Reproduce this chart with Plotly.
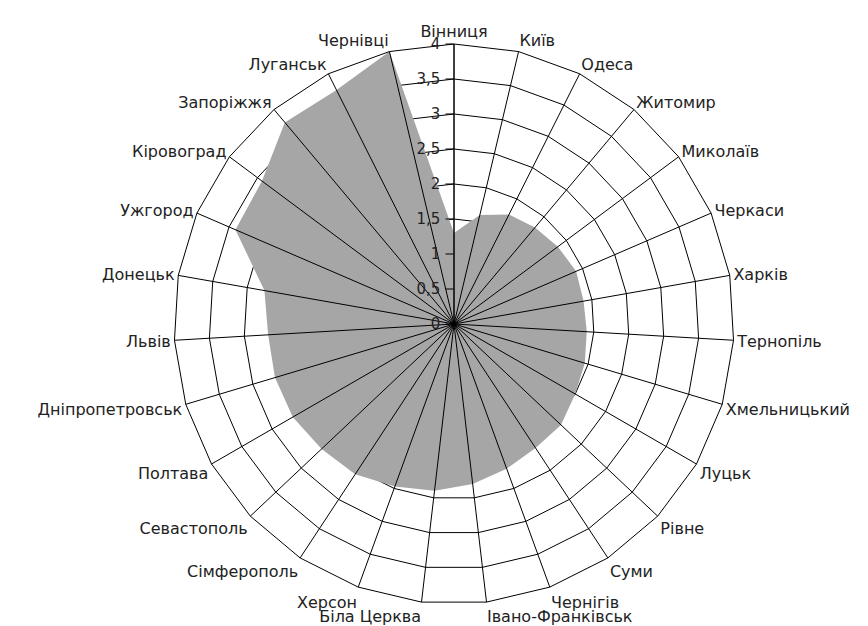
import plotly.graph_objects as go

categories = ["Вінниця", "Київ", "Одеса", "Житомир", "Миколаїв", "Черкаси", "Харків",
              "Тернопіль", "Хмельницький", "Луцьк", "Рівне", "Суми", "Чернігів",
              "Івано-Франківськ", "Біла Церква", "Херсон", "Сімферополь", "Севастополь",
              "Полтава", "Дніпропетровськ", "Львів", "Донецьк", "Ужгород", "Кіровоград",
              "Запоріжжя", "Луганськ", "Чернівці"]
values = [1.3, 1.6, 1.75, 1.8, 1.85, 1.9, 1.88,
          1.9, 1.95, 2.0, 2.1, 2.12, 2.2,
          2.3, 2.4, 2.47, 2.57, 2.6,
          2.66, 2.67, 2.66, 2.75, 3.4, 3.42,
          3.76, 3.74, 4.0]
tick_vals = [0, 0.5, 1, 1.5, 2, 2.5, 3, 3.5, 4]
tick_text = ["0", "0,5", "1", "1,5", "2", "2,5", "3", "3,5", "4"]

FONT = "DejaVu Sans"

theta = categories + [categories[0]]
r = values + [values[0]]

area = go.Scatterpolar(r=r, theta=theta, mode="lines", subplot="polar",
                       fill="toself", fillcolor="#a6a6a6",
                       line=dict(width=0, color="rgba(0,0,0,0)"),
                       hoverinfo="skip", showlegend=False)

dummy = go.Scatterpolar(r=[0] * len(categories), theta=categories, mode="lines",
                        line=dict(width=0, color="rgba(0,0,0,0)"), subplot="polar2",
                        hoverinfo="skip", showlegend=False)

fig = go.Figure([area, dummy])

ang_common = dict(type="category", categoryorder="array", categoryarray=categories,
                  direction="clockwise", rotation=90)

fig.update_layout(
    width=868, height=626,
    margin=dict(l=166, r=142, t=36, b=30),
    paper_bgcolor="white",
    font=dict(family=FONT, size=16, color="#222222"),
    polar=dict(
        domain=dict(x=[0, 1], y=[0, 1]),
        gridshape="linear",
        bgcolor="white",
        radialaxis=dict(range=[0, 4], tickvals=tick_vals, ticktext=tick_text,
                        showgrid=True, gridcolor="black", gridwidth=1,
                        showline=False, showticklabels=False, ticks="",
                        angle=90, layer="below traces"),
        angularaxis=dict(showgrid=False, showline=True, linecolor="black", linewidth=1,
                         ticks="", showticklabels=True,
                         tickfont=dict(family=FONT, size=16, color="#222222"),
                         layer="above traces", **ang_common),
    ),
    polar2=dict(
        domain=dict(x=[0, 1], y=[0, 1]),
        gridshape="linear",
        bgcolor="rgba(0,0,0,0)",
        radialaxis=dict(range=[0, 4], tickvals=tick_vals, ticktext=tick_text,
                        showgrid=False, showline=True, linecolor="black", linewidth=1,
                        ticks="outside", ticklen=8, tickcolor="black", tickangle=90,
                        tickfont=dict(family=FONT, size=15, color="#222222"),
                        angle=90, side="counterclockwise", layer="above traces"),
        angularaxis=dict(showgrid=True, gridcolor="black", gridwidth=1,
                         showline=False, ticks="", showticklabels=False,
                         layer="above traces", **ang_common),
    ),
)

fig.write_html("out.html")
